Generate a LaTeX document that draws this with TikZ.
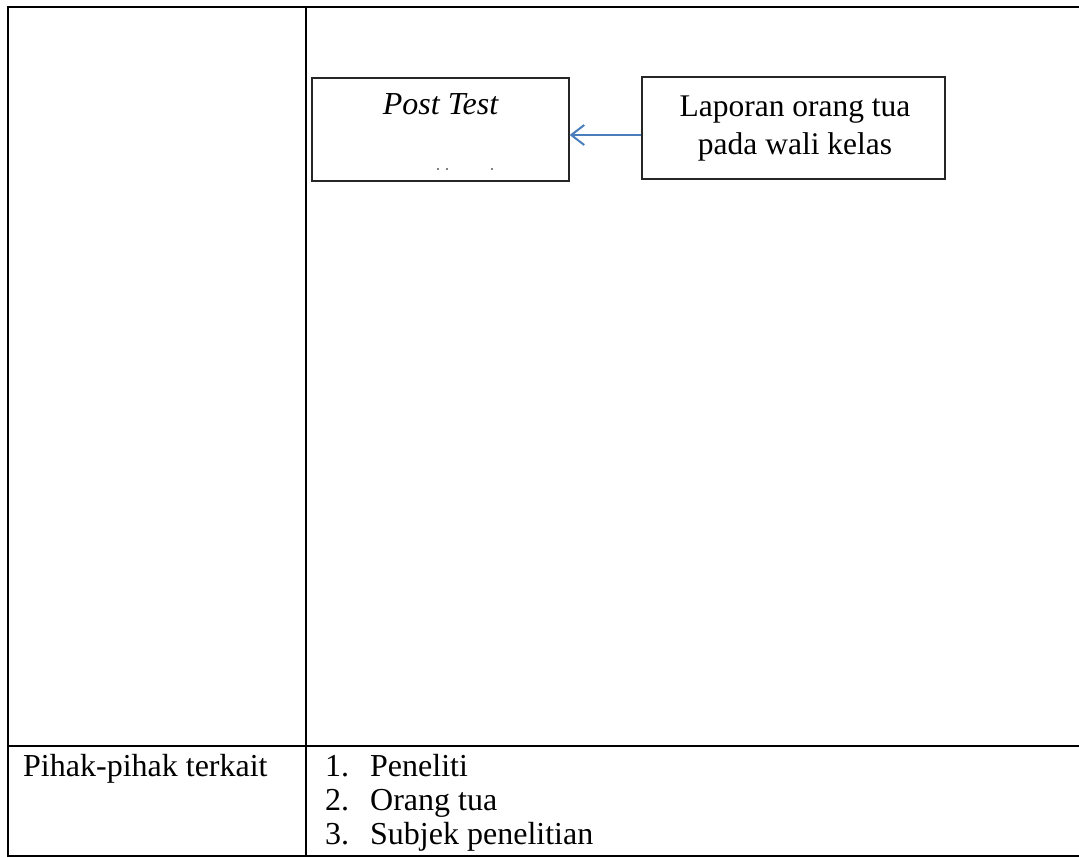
\documentclass[tikz,border=0pt]{standalone}
\usepackage{fontspec}
\setmainfont{Liberation Serif}
\usetikzlibrary{arrows.meta}
\definecolor{flowblue}{RGB}{74,126,187}
\begin{document}
\begin{tikzpicture}[x=1pt,y=-1pt,
  tab/.style={line width=2pt,black},
  boxnode/.style={draw=black!85,line width=1.2pt,inner sep=0pt,rectangle},
  txt/.style={font=\fontsize{31.5}{36}\selectfont,inner sep=0pt,anchor=base},
  ltxt/.style={txt,font=\fontsize{32}{36}\selectfont,anchor=base west},
  flow/.style={draw=flowblue,line width=2pt,-{Straight Barb[length=13pt,width=20pt]}}]
\useasboundingbox (0,0) rectangle (1079,858);
% table
\draw[tab] (1079,7.5) -- (8,7.5) -- (8,856) -- (1079,856);
\draw[tab] (306,7.5) -- (306,856);
\draw[tab] (8,746) -- (1079,746);
% boxes
\node[boxnode,minimum width=257pt,minimum height=103pt] (post) at (440.5,129.5) {};
\node[boxnode,minimum width=303pt,minimum height=102pt] (lap) at (793.5,128) {};
\node[txt,font=\fontsize{32}{36}\selectfont\itshape] (posttxt) at (440.5,115) {Post Test};
\node[txt] (lap1) at (795,117) {Laporan orang tua};
\node[txt] (lap2) at (795,155) {pada wali kelas};
\fill (438,169) circle (0.8) (447,169) circle (0.8) (492,169) circle (0.8);
% arrow
\coordinate (tip) at ([yshift=-5.5pt]post.east);
\draw[flow] (lap.west |- tip) -- (tip);
% bottom row
\node[ltxt] (pihak) at (23,776) {Pihak-pihak terkait};
\node[ltxt] (n1) at (325,776) {1.};
\node[ltxt] (i1) at (370,776) {Peneliti};
\node[ltxt] (n2) at (325,810) {2.};
\node[ltxt] (i2) at (370,810) {Orang tua};
\node[ltxt] (n3) at (325,844) {3.};
\node[ltxt] (i3) at (370,844) {Subjek penelitian};
\end{tikzpicture}
\end{document}
